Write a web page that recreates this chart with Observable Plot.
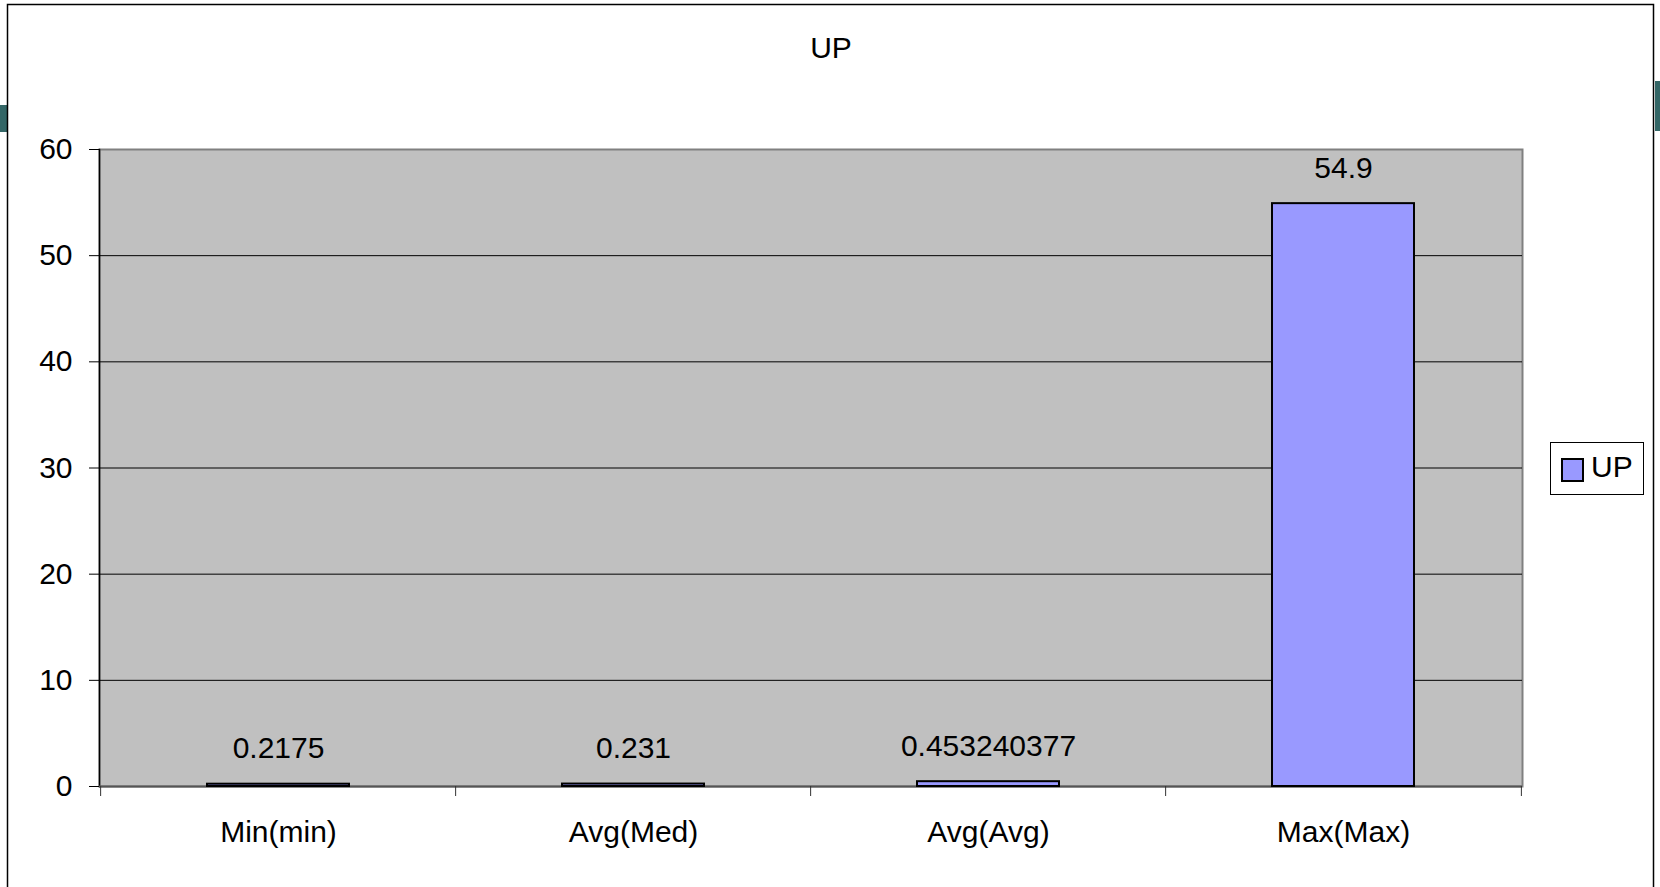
<!DOCTYPE html>
<html>
<head>
<meta charset="utf-8">
<script src="https://cdn.jsdelivr.net/npm/d3@7"></script>
<script src="https://cdn.jsdelivr.net/npm/@observablehq/plot@0.6"></script>
<style>
  html, body { margin: 0; padding: 0; background: #fff; }
  #wrap { position: relative; width: 1660px; height: 887px; overflow: hidden; }
  #wrap svg { position: absolute; left: 0; top: 0; }
  #deco { pointer-events: none; }
</style>
</head>
<body>
<div id="wrap"></div>
<script>
// Series data
const categories = ["Min(min)", "Avg(Med)", "Avg(Avg)", "Max(Max)"];
const values = [0.2175, 0.231, 0.453240377, 54.9];
const yTicks = [0, 10, 20, 30, 40, 50, 60];
const seriesName = "UP";
const chartTitle = "UP";

const data = categories.map((c, i) => ({category: c, value: values[i]}));

const W = 1660, H = 887;
const mL = 99, mR = 138, mT = 149, mB = 101;
const step = (W - mL - mR) / categories.length;
const font = "'Liberation Sans', Arial, sans-serif";

const chart = Plot.plot({
  width: W,
  height: H,
  marginLeft: mL,
  marginRight: mR,
  marginTop: mT,
  marginBottom: mB,
  style: {fontFamily: font, fontSize: "30px", color: "#000", background: "transparent"},
  x: {domain: categories, paddingInner: 0.6, paddingOuter: 0.3, label: null},
  y: {domain: [0, 60], label: null},
  marks: [
    Plot.frame({fill: "#c0c0c0", stroke: "#808080", strokeWidth: 2}),
    Plot.gridY({ticks: yTicks.filter(t => t > 0 && t < 60), stroke: "#000", strokeOpacity: 1, strokeWidth: 1}),
    Plot.frame({anchor: "left", stroke: "#000", strokeWidth: 1.5}),
    Plot.ruleY([0], {stroke: "#555", strokeWidth: 2}),
    Plot.axisY({ticks: yTicks, tickSize: 10, tickPadding: 17, stroke: "#000", fill: "#000", tickFormat: d => String(d), label: null}),
    // category separators below the axis
    Plot.axisX({tickSize: 10, text: null, dx: -step / 2, stroke: "#333", label: null}),
    Plot.axisX({ticks: [categories[categories.length - 1]], tickSize: 10, text: null, dx: step / 2, stroke: "#333", label: null}),
    Plot.axisX({tickSize: 0, tickPadding: 34, fill: "#000", label: null}),
    Plot.barY(data, {x: "category", y: "value", fill: "#9999ff", stroke: "#000", strokeWidth: 2}),
    Plot.text(data, {x: "category", y: "value", text: d => String(d.value), lineAnchor: "bottom", dy: -26, fill: "#000"})
  ]
});

const wrap = document.getElementById("wrap");
wrap.appendChild(chart);

// Outer chart border, title and legend
const NS = "http://www.w3.org/2000/svg";
const deco = document.createElementNS(NS, "svg");
deco.setAttribute("id", "deco");
deco.setAttribute("width", W);
deco.setAttribute("height", H);
deco.innerHTML = `
  <rect x="0" y="105" width="7" height="27" fill="#336666"/>
  <rect x="1655" y="81" width="5" height="50" fill="#336666"/>
  <rect x="7.5" y="4.5" width="1646" height="900" fill="none" stroke="#000" stroke-width="1.5"/>
  <text x="831" y="58" text-anchor="middle" font-family="${font}" font-size="30" fill="#000">${chartTitle}</text>
  <rect x="1550.5" y="442.5" width="93" height="52" fill="#fff" stroke="#000" stroke-width="1"/>
  <rect x="1562" y="459" width="21" height="22" fill="#9999ff" stroke="#000" stroke-width="2"/>
  <text x="1591" y="477" font-family="${font}" font-size="30" fill="#000">${seriesName}</text>
`;
wrap.appendChild(deco);
</script>
</body>
</html>
